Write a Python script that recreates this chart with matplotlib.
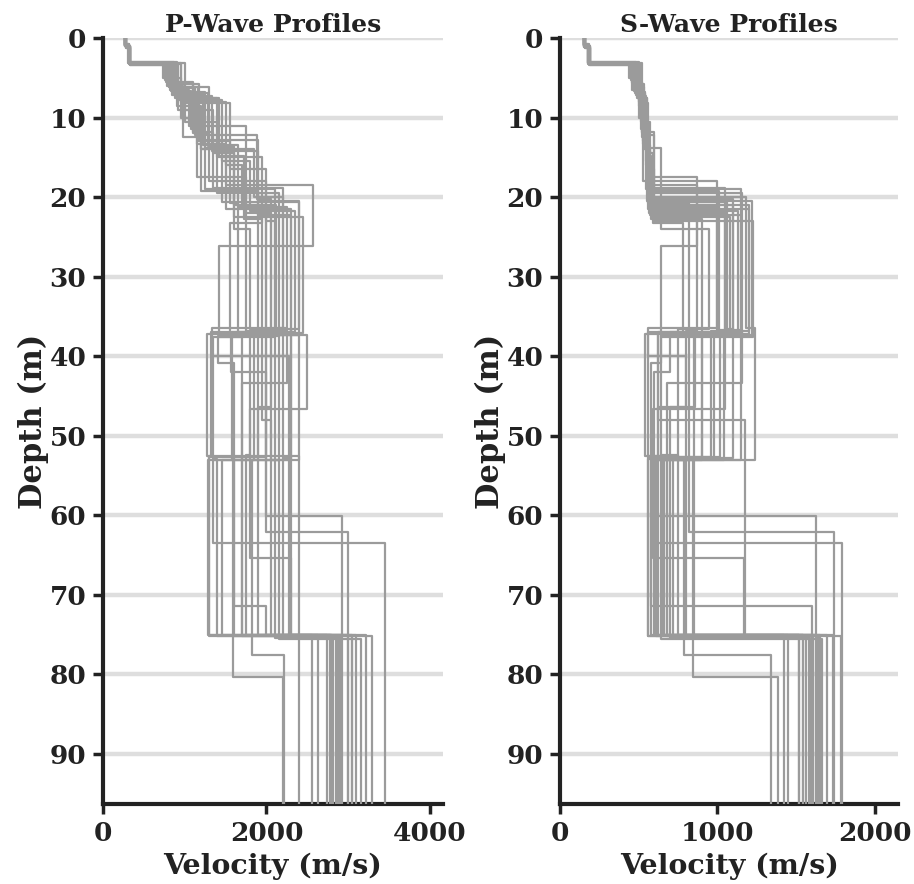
import matplotlib
matplotlib.use("Agg")
import matplotlib.pyplot as plt

# layer interfaces (m) for each profile, shared by Vp and Vs
interfaces = [
    [0.9, 3.1, 6.0, 12.5, 19.0, 36.8, 52.7, 75.2],
    [1.1, 3.3, 7.2, 13.3, 21.5, 37.2, 46.4, 75.0],
    [1.0, 3.2, 5.3, 9.0, 14.0, 18.5, 26.2, 37.6, 53.0, 63.5],
    [0.8, 3.0, 8.6, 14.0, 20.0, 36.5, 53.0, 75.1],
    [1.2, 3.4, 6.5, 11.0, 22.0, 37.0, 42.0, 60.1],
    [1.0, 3.1, 7.5, 15.0, 23.3, 36.9, 52.5, 75.0],
    [0.9, 3.3, 5.8, 12.8, 20.5, 37.3, 62.1],
    [1.1, 3.2, 8.0, 16.0, 21.0, 37.4, 46.6, 65.4, 75.3],
    [1.0, 3.2, 6.8, 13.8, 24.0, 36.6, 53.0, 77.6],
    [0.9, 3.0, 7.0, 10.5, 19.5, 37.5, 40.9, 71.4, 75.0],
    [1.0, 3.3, 5.5, 12.0, 18.0, 36.7, 43.4, 75.2],
    [1.1, 3.1, 9.0, 14.5, 22.5, 37.1, 52.8, 75.0],
    [0.8, 3.2, 6.2, 13.0, 20.8, 36.9, 48.0, 75.1],
    [1.0, 3.4, 7.8, 15.5, 21.8, 37.0, 53.0, 80.3],
    [0.9, 3.1, 6.6, 11.5, 19.2, 37.2, 52.6, 75.0],
    [1.0, 3.2, 5.0, 10.0, 17.5, 36.8, 46.4, 75.4],
    [1.1, 3.3, 8.2, 16.5, 23.0, 37.6, 52.9, 75.2],
    [0.9, 3.2, 7.0, 13.5, 21.2, 36.5, 40.0, 75.0],
    [1.0, 3.1, 6.3, 12.2, 20.2, 37.3, 53.0, 75.1],
    [1.2, 3.3, 7.6, 14.8, 22.8, 37.0, 53.1, 75.5],
    [0.9, 3.2, 5.6, 11.8, 18.8, 37.4, 52.4, 75.0],
    [1.0, 3.2, 6.9, 13.6, 21.0, 36.8, 52.7, 75.2],
    [1.0, 3.1, 7.3, 14.2, 22.2, 37.1, 53.0, 75.1],
    [0.9, 3.3, 6.1, 12.9, 20.6, 36.6, 52.8, 75.0],
]

vp_layers = [
    [270, 320, 780, 980, 1250, 2100, 1900, 1300, 2850],
    [280, 330, 850, 1150, 1500, 2300, 2050, 1900, 3000],
    [275, 325, 760, 920, 1200, 1500, 2570, 1420, 1700, 1350, 3450],
    [265, 315, 900, 1200, 1850, 2200, 2150, 1280, 2780],
    [285, 335, 820, 1050, 1750, 2050, 1570, 2000, 2920],
    [270, 310, 880, 1400, 1950, 1550, 1320, 1300, 3100],
    [275, 320, 800, 1180, 1900, 2400, 2000, 3000],
    [280, 330, 950, 1500, 1700, 2000, 2500, 1800, 2300, 2900],
    [270, 320, 840, 1250, 1600, 1800, 2300, 1820, 2210],
    [265, 315, 870, 1000, 1400, 2150, 1410, 1600, 2000, 3050],
    [275, 325, 770, 1100, 1300, 2000, 2250, 1700, 2820],
    [280, 320, 1000, 1350, 1600, 2450, 2200, 2300, 3220],
    [268, 318, 810, 1300, 1550, 1650, 1950, 2050, 2740],
    [272, 328, 920, 1450, 1800, 2350, 1580, 1590, 2200],
    [270, 322, 830, 1080, 1200, 1900, 1270, 2400, 2630],
    [278, 328, 740, 960, 1150, 1750, 2100, 2100, 2880],
    [282, 332, 960, 1550, 2000, 2100, 1350, 1400, 3290],
    [270, 318, 870, 1220, 1650, 2250, 1330, 2280, 2800],
    [274, 324, 815, 1130, 1880, 2060, 2400, 1450, 2910],
    [285, 335, 900, 1420, 1720, 1950, 2050, 2150, 3160],
    [268, 320, 790, 1100, 1350, 2200, 1800, 1750, 2560],
    [276, 326, 860, 1280, 1600, 2120, 2000, 1600, 3043],
    [272, 322, 880, 1330, 1900, 2300, 1850, 1700, 2393],
    [270, 320, 805, 1160, 1450, 2400, 2300, 2200, 2790],
]

vs_layers = [
    [155, 185, 470, 520, 545, 1150, 1020, 560, 1600],
    [150, 180, 480, 530, 560, 1200, 860, 620, 1650],
    [160, 190, 450, 510, 540, 560, 870, 640, 900, 600, 1790],
    [152, 182, 500, 540, 570, 1180, 1240, 650, 1545],
    [158, 188, 460, 525, 565, 1050, 700, 600, 1625],
    [155, 178, 490, 550, 590, 780, 560, 720, 1700],
    [150, 185, 470, 535, 555, 1220, 820, 1745],
    [160, 190, 505, 545, 580, 1100, 1050, 590, 1170, 1580],
    [155, 185, 475, 540, 640, 950, 750, 790, 1340],
    [150, 180, 485, 515, 575, 1160, 640, 580, 1605, 1610],
    [157, 186, 455, 520, 530, 1000, 1160, 680, 1565],
    [153, 183, 520, 555, 590, 1080, 980, 850, 1735],
    [152, 180, 465, 530, 560, 820, 620, 1178, 1520],
    [156, 187, 500, 548, 585, 1130, 850, 845, 1386],
    [154, 184, 470, 515, 560, 1010, 540, 680, 1450],
    [158, 189, 440, 505, 555, 870, 800, 700, 1590],
    [159, 191, 510, 560, 600, 1230, 900, 560, 1786],
    [151, 181, 485, 540, 570, 1000, 560, 800, 1600],
    [155, 185, 468, 528, 595, 1100, 1150, 600, 1630],
    [158, 188, 495, 550, 580, 900, 1040, 640, 1668],
    [152, 183, 455, 522, 600, 1050, 640, 750, 1425],
    [156, 186, 478, 538, 565, 1200, 960, 610, 1640],
    [154, 184, 488, 545, 575, 1150, 620, 660, 1542],
    [153, 184, 462, 532, 560, 1060, 1100, 580, 1520],
]

depth_max = 96.3
profile_bottom = 100.0


def step_xy(zs, vs):
    tops = [0.0] + list(zs)
    bots = list(zs) + [profile_bottom]
    x, y = [], []
    for v, t, b in zip(vs, tops, bots):
        x += [v, v]
        y += [t, b]
    return x, y


plt.rcParams["font.family"] = "DejaVu Serif"
plt.rcParams["font.weight"] = "bold"
plt.rcParams["text.color"] = "#222222"
plt.rcParams["axes.labelcolor"] = "#222222"
plt.rcParams["xtick.labelcolor"] = "#222222"
plt.rcParams["ytick.labelcolor"] = "#222222"

fig = plt.figure(figsize=(9.14, 8.84), dpi=100)
ax1 = fig.add_axes([0.1127, 0.0905, 0.372, 0.8665])
ax2 = fig.add_axes([0.6127, 0.0905, 0.370, 0.8665])

for ax, layers, title, xmax, xticks in [
    (ax1, vp_layers, "P-Wave Profiles", 4160, [0, 2000, 4000]),
    (ax2, vs_layers, "S-Wave Profiles", 2150, [0, 1000, 2000]),
]:
    for zs, vs in zip(interfaces, layers):
        x, y = step_xy(zs, vs)
        ax.plot(x, y, color="#9b9b9b", lw=1.6, solid_joinstyle="round", zorder=3)
    ax.set_ylim(depth_max, 0)
    ax.set_xlim(0, xmax)
    ax.set_xticks(xticks)
    ax.set_yticks(range(0, 91, 10))
    ax.grid(axis="y", color="#dedede", lw=3.2, zorder=0)
    ax.set_axisbelow(True)
    for s in ["top", "right"]:
        ax.spines[s].set_visible(False)
    for s in ["left", "bottom"]:
        ax.spines[s].set_linewidth(3)
        ax.spines[s].set_color("#222222")
    ax.tick_params(direction="out", length=7, width=2.5, color="#222222",
                   labelsize=19, pad=5)
    for lab in ax.get_xticklabels() + ax.get_yticklabels():
        lab.set_fontweight("bold")
    ax.set_title(title, fontsize=18, fontweight="bold", pad=4)
    ax.set_xlabel("Velocity (m/s)", fontsize=20.5, fontweight="bold", labelpad=5)
    ax.set_ylabel("Depth (m)", fontsize=22, fontweight="bold", labelpad=0)

fig.savefig("out.png", dpi=100)
